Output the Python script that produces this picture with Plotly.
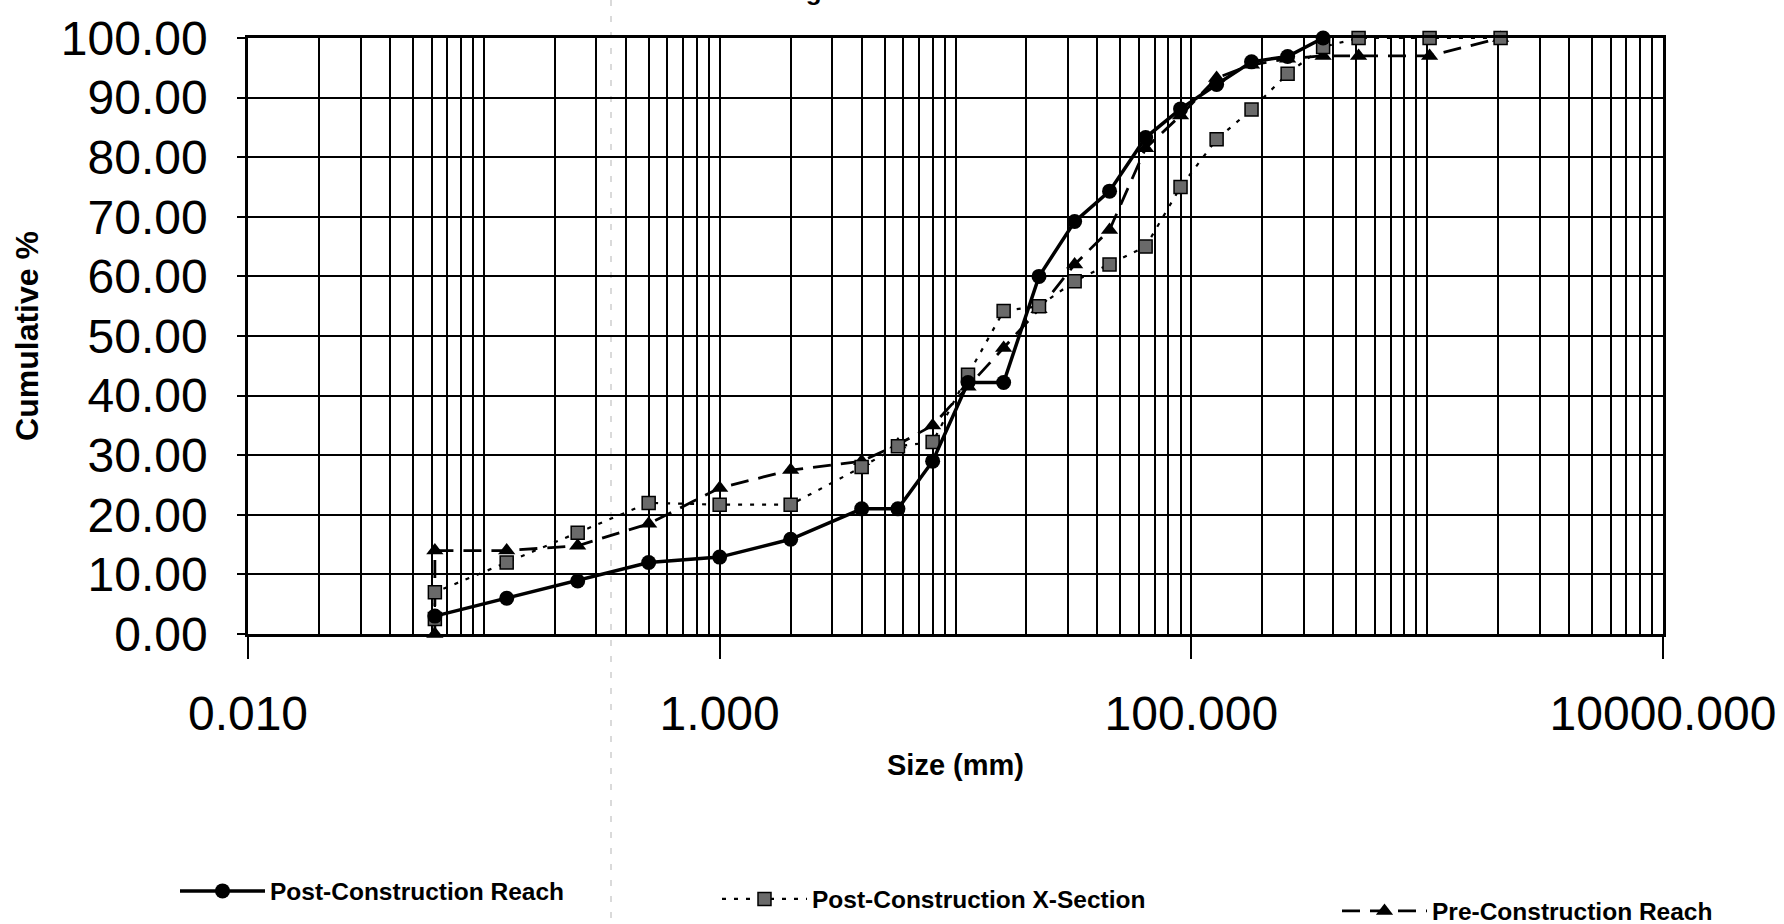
import plotly.graph_objects as go

# ---------------- data ----------------
sizes_post_reach = [0.062, 0.125, 0.25, 0.5, 1, 2, 4, 5.7, 8, 11.3, 16, 22.6,
                    32, 45, 64, 90, 128, 180, 256, 362]
post_reach = [3.0, 6.0, 8.9, 12.0, 12.9, 15.9, 21.0, 21.0, 29.0, 42.2, 42.2, 60.0,
              69.2, 74.3, 83.3, 88.1, 92.2, 96.0, 96.9, 100.0]

sizes_post_xsec = [0.062, 0.062, 0.125, 0.25, 0.5, 1, 2, 4, 5.7, 8, 11.3, 16, 22.6,
                   32, 45, 64, 90, 128, 180, 256, 362, 512, 1024, 2048]
post_xsec = [2.5, 7.0, 12.0, 17.0, 22.0, 21.7, 21.7, 28.0, 31.5, 32.2, 43.5, 54.2, 55.0,
             59.2, 62.0, 65.0, 75.0, 83.0, 88.0, 94.0, 98.5, 100.0, 100.0, 100.0]

sizes_pre_reach = [0.062, 0.062, 0.125, 0.25, 0.5, 1, 2, 4, 5.7, 8, 11.3, 16, 22.6,
                   32, 45, 64, 90, 128, 180, 256, 362, 512, 1024, 2048]
pre_reach = [0.0, 14.0, 14.0, 14.8, 18.5, 24.5, 27.5, 29.0, 31.8, 35.0, 41.5, 48.0, 54.5,
             62.0, 67.8, 81.5, 87.0, 93.3, 95.5, 96.5, 97.0, 97.0, 97.0, 100.0]

x_major_vals = [0.01, 1, 100, 10000]
x_major_text = ["0.010", "1.000", "100.000", "10000.000"]
x_minor_vals = [m * 10 ** e for e in range(-2, 4) for m in range(1, 10)
                if not (m == 1 and e in (-2, 0, 2))]

y_vals = list(range(0, 101, 10))
y_text = ["%.2f" % v for v in y_vals]

title_text = "Weighted Pebble Count"
legend_names = ["Post-Construction Reach", "Post-Construction X-Section",
                "Pre-Construction Reach"]

# ---------------- figure ----------------
FONT = "Liberation Sans, Arial, sans-serif"
W, H = 1784, 924
ML, MR, MT, MB = 248, 121, 38, 290

fig = go.Figure()

fig.add_trace(go.Scatter(
    x=sizes_pre_reach, y=pre_reach, name=legend_names[2], mode="lines+markers",
    line=dict(color="black", width=2.8, dash="18px,10px"),
    marker=dict(symbol="triangle-up", size=15, color="black"),
    legend="legend3", cliponaxis=False))

fig.add_trace(go.Scatter(
    x=sizes_post_xsec, y=post_xsec, name=legend_names[1], mode="lines+markers",
    line=dict(color="black", width=2.2, dash="4px,8px"),
    marker=dict(symbol="square", size=13, color="#6a6a6a",
                line=dict(color="black", width=1.5)),
    legend="legend2", cliponaxis=False))

fig.add_trace(go.Scatter(
    x=sizes_post_reach, y=post_reach, name=legend_names[0], mode="lines+markers",
    line=dict(color="black", width=3.5),
    marker=dict(symbol="circle", size=15, color="black"),
    legend="legend", cliponaxis=False))

ph = H - MT - MB
pw = W - ML - MR


def py(pix):
    return (H - MB - pix) / ph


def px(pix):
    return (pix - ML) / pw


legend_common = dict(xanchor="left", yanchor="middle", orientation="h",
                     font=dict(family=FONT, size=24.5, color="black", weight="bold"),
                     bgcolor="rgba(0,0,0,0)", itemwidth=85)

fig.update_layout(
    width=W, height=H,
    margin=dict(l=ML, r=MR, t=MT, b=MB, autoexpand=False),
    paper_bgcolor="white", plot_bgcolor="white",
    font=dict(family=FONT, color="black"),
    xaxis=dict(
        type="log", range=[-2, 4],
        tickmode="array", tickvals=x_major_vals, ticktext=x_major_text,
        tickfont=dict(family=FONT, size=48, color="black"),
        ticks="outside", ticklen=22, tickwidth=2, tickcolor="black",
        ticklabelstandoff=14,
        showgrid=True, gridcolor="black", gridwidth=1.6,
        minor=dict(tickmode="array", tickvals=x_minor_vals, showgrid=True,
                   gridcolor="black", gridwidth=1.6, ticks=""),
        showline=True, linecolor="black", linewidth=2.5, mirror=True,
        zeroline=False,
        title=dict(text="<b>Size (mm)</b>", standoff=16,
                   font=dict(family=FONT, size=29, color="black")),
    ),
    yaxis=dict(
        range=[0, 100], tickmode="array", tickvals=y_vals, ticktext=y_text,
        tickfont=dict(family=FONT, size=48, color="black"),
        ticks="outside", ticklen=8, tickwidth=2, tickcolor="black",
        ticklabelstandoff=20,
        showgrid=True, gridcolor="black", gridwidth=2,
        showline=True, linecolor="black", linewidth=2.5, mirror=True,
        zeroline=False,
        title=dict(text="<b>Cumulative %</b>", standoff=13,
                   font=dict(family=FONT, size=32, color="black")),
    ),
    legend=dict(x=px(175), y=py(891), **legend_common),
    legend2=dict(x=px(717), y=py(899), **legend_common),
    legend3=dict(x=px(1337), y=py(911), **legend_common),
    annotations=[dict(
        text="<b>" + title_text + "</b>", xref="paper", yref="paper",
        x=px(906), y=py(8), xanchor="center", yanchor="bottom",
        showarrow=False, font=dict(family=FONT, size=26, color="black"))],
    shapes=[dict(type="line", xref="paper", yref="paper",
                 x0=px(611), x1=px(611), y0=py(0), y1=py(924),
                 line=dict(color="#b5b5b5", width=1, dash="6px,10px"),
                 layer="below")],
    showlegend=True,
)

fig.write_html(
    "out.html",
    config={"displayModeBar": False},
    post_script="document.body.style.margin='0';document.body.style.overflow='hidden';",
)
